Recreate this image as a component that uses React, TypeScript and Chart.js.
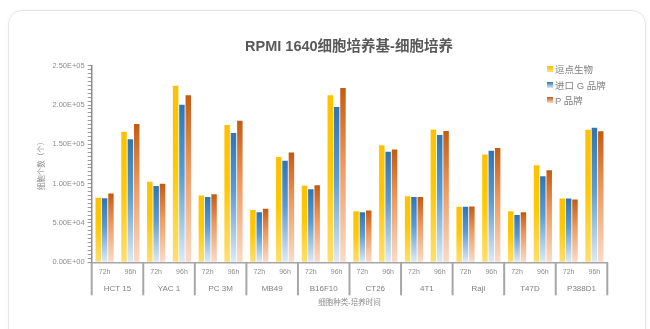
import React, { useEffect, useRef } from "react";
import { Chart, registerables } from "chart.js";

Chart.register(...registerables);

const titleText = "RPMI 1640细胞培养基-细胞培养";
const groups = ["HCT 15", "YAC 1", "PC 3M", "MB49", "B16F10", "CT26", "4T1", "Raji", "T47D", "P388D1"];
const times = ["72h", "96h"];
const seriesNames = ["逗点生物", "进口 G 品牌", "P 品牌"];
const doudian = [82000, 166000, 102500, 224500, 85000, 174500, 66500, 134000, 97500, 212500, 65000, 149000, 84000, 169000, 70500, 137000, 65000, 123500, 81000, 168500];
const gbrand = [81500, 156500, 97000, 200500, 83000, 164500, 63500, 129000, 93000, 197500, 63500, 140500, 83000, 162000, 70500, 142000, 60000, 109500, 81000, 171000];
const pbrand = [87500, 176000, 100000, 212500, 86500, 180000, 68000, 139500, 98000, 221500, 66000, 143500, 83000, 167000, 71000, 145500, 63500, 117000, 80000, 166500];
const yTitle = "细胞个数（个）";
const xTitle = "细胞种类-培养时间";

const gradStops: string[][] = [
  ["#FFC000", "#FFC800", "#FFDF70"],
  ["#2E75B6", "#5B9BD5", "#DDEBF7"],
  ["#C55A11", "#F09A5E", "#FBDCC8"],
];

const FONT = '"Liberation Sans", "Noto Sans CJK SC", sans-serif';

function fmt(v: number): string {
  if (v === 0) return "0.00E+00";
  const e = Math.floor(Math.log10(v) + 1e-9);
  const m = v / Math.pow(10, e);
  return m.toFixed(2) + "E+" + String(e).padStart(2, "0");
}

const labels: string[] = [];
groups.forEach(() => times.forEach((t) => labels.push(t)));

function barGradient(si: number) {
  return (ctx: any) => {
    const chart = ctx.chart;
    const area = chart.chartArea;
    const stops = gradStops[si];
    if (!area || ctx.raw == null || !chart.scales.y) return stops[0];
    const top = chart.scales.y.getPixelForValue(ctx.raw);
    const g = chart.ctx.createLinearGradient(0, top, 0, area.bottom);
    g.addColorStop(0, stops[0]);
    g.addColorStop(0.45, stops[1]);
    g.addColorStop(1, stops[2]);
    return g;
  };
}

const separatorPlugin = {
  id: "groupSeparators",
  afterDraw(chart: any) {
    const x = chart.scales.x;
    const area = chart.chartArea;
    const c = chart.ctx;
    const half = (x.getPixelForValue(1) - x.getPixelForValue(0)) / 2;
    c.save();
    c.strokeStyle = "#a6a6a6";
    c.lineWidth = 2;
    for (let g = 0; g <= groups.length; g++) {
      const px = g < groups.length ? x.getPixelForValue(g * times.length) - half : x.getPixelForValue(labels.length - 1) + half;
      c.beginPath();
      c.moveTo(px, area.bottom);
      c.lineTo(px, area.bottom + 33);
      c.stroke();
    }
    c.restore();
  },
};

export default function App() {
  const ref = useRef<HTMLCanvasElement>(null);
  useEffect(() => {
    if (!ref.current) return;
    const data = [doudian, gbrand, pbrand];
    const chart = new Chart(ref.current, {
      type: "bar",
      data: {
        labels,
        datasets: data.map((d, i) => ({
          label: seriesNames[i],
          data: d,
          backgroundColor: barGradient(i),
          borderWidth: 0,
          categoryPercentage: 0.74,
          barPercentage: 0.86,
        })),
      },
      options: {
        responsive: false,
        animation: false,
        layout: { padding: { left: 0, right: 42.7, top: 65.7, bottom: 4.7 } },
        plugins: { legend: { display: false }, title: { display: false }, tooltip: { enabled: false } },
        scales: {
          x: {
            type: "category",
            position: "bottom",
            weight: 0,
            grid: { display: false, drawTicks: false },
            border: { display: true, color: "#a6a6a6", width: 1.5 },
            ticks: { color: "#8c8c8c", font: { family: FONT, size: 7 }, padding: 6, maxRotation: 0, autoSkip: false },
            afterFit: (s: any) => { s.height = 17; },
          },
          x2: {
            type: "category",
            position: "bottom",
            weight: 1,
            labels: groups,
            offset: true,
            grid: { display: false, drawTicks: false },
            border: { display: false },
            ticks: { color: "#7f7f7f", font: { family: FONT, size: 8 }, padding: 5, maxRotation: 0, autoSkip: false },
            title: { display: true, text: xTitle, color: "#8c8c8c", font: { family: FONT, size: 7.5 }, padding: { top: 0, bottom: 16.5 } },
            afterFit: (s: any) => { s.height = 45; },
          },
          y: {
            type: "linear",
            min: 0,
            max: 250000,
            grid: { drawOnChartArea: false, drawTicks: true, tickLength: 4, tickColor: "#999999", tickWidth: 1 },
            border: { display: true, color: "#8c8c8c", width: 1.5 },
            ticks: {
              stepSize: 5000,
              autoSkip: false,
              color: "#8c8c8c",
              padding: 3,
              font: { family: FONT, size: 7.5 },
              callback: (v: any) => (Number(v) % 50000 === 0 ? fmt(Number(v)) : ""),
            },
            title: { display: true, text: yTitle, color: "#8c8c8c", font: { family: FONT, size: 7.5 }, padding: { top: 37, bottom: 0 } },
            afterFit: (s: any) => { s.width = 91.7; },
          },
        },
      },
      plugins: [separatorPlugin],
    } as any);
    return () => chart.destroy();
  }, []);

  return (
    <div style={{ position: "fixed", left: 0, top: 0, width: 650, height: 329, background: "#fff", overflow: "hidden" }}>
      <div
        style={{
          position: "absolute",
          left: 8,
          top: 10,
          width: 636,
          height: 340,
          border: "1px solid #e6e6e6",
          borderRadius: 14,
          boxShadow: "0 0 4px rgba(0,0,0,0.04)",
        }}
      />
      <canvas ref={ref} width={650} height={329} style={{ position: "absolute", left: 0, top: 0, width: 650, height: 329 }} />
      <div
        style={{
          position: "absolute",
          left: 0,
          top: 37,
          width: 698,
          textAlign: "center",
          fontFamily: FONT,
          fontWeight: "bold",
          fontSize: 14.5,
          color: "#595959",
          lineHeight: "18px",
        }}
      >
        {titleText}
      </div>
      <div style={{ position: "absolute", left: 547, top: 61.5, fontFamily: FONT, fontSize: 9.5, color: "#7f7f7f" }}>
        {seriesNames.map((n, i) => (
          <div key={n} style={{ display: "flex", alignItems: "center", height: 15.5 }}>
            <span
              style={{
                display: "inline-block",
                width: 6,
                height: 6,
                marginRight: 2,
                background: `linear-gradient(${gradStops[i][0]}, ${gradStops[i][2]})`,
              }}
            />
            {n}
          </div>
        ))}
      </div>
    </div>
  );
}
